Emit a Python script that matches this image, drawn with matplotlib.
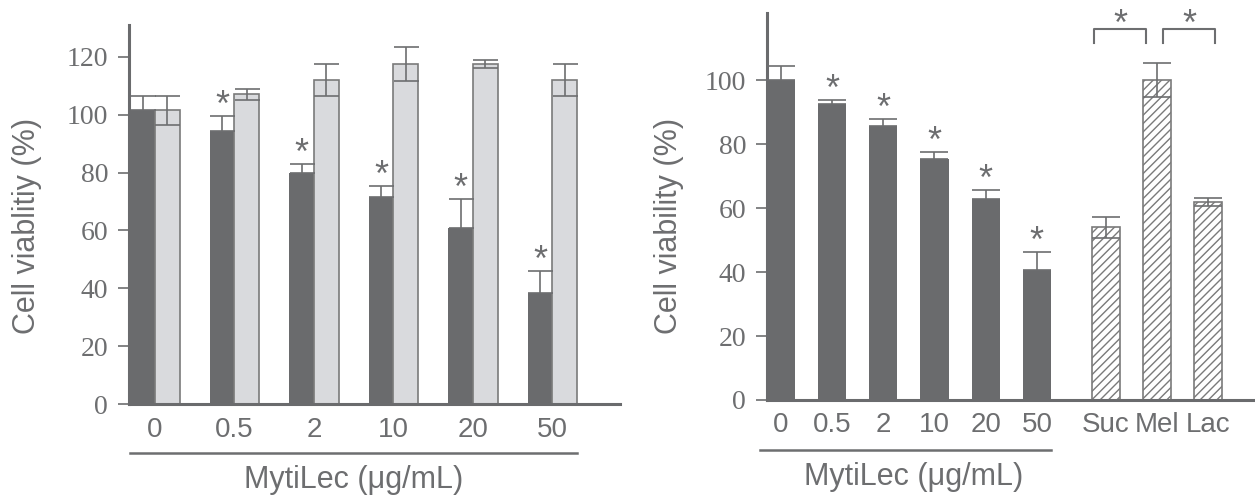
import numpy as np
import matplotlib.pyplot as plt
from matplotlib.transforms import blended_transform_factory

plt.rcParams['font.family'] = ['Liberation Sans', 'DejaVu Sans']
plt.rcParams['hatch.linewidth'] = 1.0

# Левая панель: MytiLec и контроль
doses = ['0', '0.5', '2', '10', '20', '50']
mytilec_mean = [101.5, 94.5, 80, 71.5, 61, 38.5]
mytilec_err = [5, 5, 3, 4, 10, 7.5]
control_mean = [101.5, 107, 112, 117.5, 117.5, 112]
control_err = [5, 2, 5.5, 6, 1.5, 5.5]

# Правая панель: MytiLec и сахара
doses_r = ['0', '0.5', '2', '10', '20', '50']
viab_mean = [100, 92.5, 85.7, 75.3, 62.8, 40.8]
viab_err = [4.5, 1.3, 2.3, 2.2, 2.8, 5.5]
sugars = ['Suc', 'Mel', 'Lac']
sugar_mean = [54, 100, 62]
sugar_err = [3.3, 5.3, 1.2]

dark = '#6a6b6d'
light = '#d9dadd'
gray = '#6d6e70'
edge = '#7a7a7a'

fig = plt.figure(figsize=(12.55, 4.97), dpi=100)
ax1 = fig.add_axes([0.1028, 0.1871, 0.3912, 0.7626])
ax2 = fig.add_axes([0.6112, 0.1952, 0.3888, 0.7786])


def style_axis(ax, ymax, yticks, xticks, xlabels):
    for s in ['top', 'right']:
        ax.spines[s].set_visible(False)
    for s in ['left', 'bottom']:
        ax.spines[s].set_linewidth(2.2)
        ax.spines[s].set_color(dark)
    ax.set_ylim(0, ymax)
    ax.set_yticks(yticks)
    ax.set_yticklabels([str(t) for t in yticks], fontfamily='Liberation Serif', fontsize=20)
    ax.set_xticks(xticks)
    ax.set_xticklabels(xlabels, fontfamily='Liberation Sans', fontsize=20)
    ax.tick_params(axis='y', length=8, width=1.2, color=gray, pad=7, labelcolor=gray)
    ax.tick_params(axis='x', length=0, pad=9, labelcolor=gray)


# ---- левый график ----
x = np.arange(len(doses))
w = 0.31
ax1.bar(x - w / 2, mytilec_mean, w, color=dark, zorder=2)
ax1.bar(x + w / 2, control_mean, w, color=light, edgecolor=edge, linewidth=1.2, zorder=2)
ax1.errorbar(x - w / 2, mytilec_mean, yerr=[np.zeros(len(x)), mytilec_err], fmt='none',
             ecolor=gray, elinewidth=1.2, capsize=9, capthick=1.2, zorder=3)
ax1.errorbar(x + w / 2, control_mean, yerr=control_err, fmt='none',
             ecolor=gray, elinewidth=1.2, capsize=9, capthick=1.2, zorder=3)
for i in range(1, len(x)):
    ax1.text(x[i] - w / 2, mytilec_mean[i] + mytilec_err[i], '*', ha='center', va='baseline',
             fontsize=26, color=gray)
ax1.set_xlim(-0.327, 5.85)
style_axis(ax1, 131, [0, 20, 40, 60, 80, 100, 120], x, doses)
ax1.set_ylabel('Cell viablitiy (%)', fontsize=22, color=gray, va='center')
ax1.yaxis.set_label_coords(-0.208, 0.47)

tr1 = blended_transform_factory(ax1.transData, ax1.transAxes)
ax1.plot([x[0] - w, x[-1] + w], [-0.129, -0.129], transform=tr1, color=gray,
         linewidth=1.8, clip_on=False)
ax1.text((x[0] + x[-1]) / 2, -0.2, 'MytiLec (μg/mL)', transform=tr1, ha='center',
         va='center', fontsize=22, color=gray)

# ---- правый график ----
xr = np.arange(len(doses_r))
xs = np.arange(len(sugars)) + 6.35
wr = 0.55
ax2.bar(xr, viab_mean, wr, color=dark, zorder=2)
ax2.bar(xs, sugar_mean, wr, color='white', edgecolor=edge, hatch='////', linewidth=1.2, zorder=2)
ax2.errorbar(xr, viab_mean, yerr=[np.zeros(len(xr)), viab_err], fmt='none',
             ecolor=gray, elinewidth=1.2, capsize=10, capthick=1.2, zorder=3)
ax2.errorbar(xs, sugar_mean, yerr=sugar_err, fmt='none',
             ecolor=gray, elinewidth=1.2, capsize=10, capthick=1.2, zorder=3)
for i in range(1, len(xr)):
    ax2.text(xr[i], viab_mean[i] + viab_err[i], '*', ha='center', va='baseline',
             fontsize=26, color=gray)

# скобки значимости
for a, b, d0, d1 in [(0, 1, -0.23, -0.22), (1, 2, 0.12, 0.13)]:
    xa, xb = xs[a] + d0, xs[b] + d1
    ax2.plot([xa, xa, xb, xb], [111.5, 116, 116, 111.5], color=gray, linewidth=1.5,
             clip_on=False)
    ax2.text((xa + xb) / 2, 114, '*', ha='center', va='baseline', fontsize=26, color=gray)

ax2.set_xlim(-0.27, 9.26)
style_axis(ax2, 121, [0, 20, 40, 60, 80, 100], list(xr) + list(xs), doses_r + sugars)
ax2.set_ylabel('Cell viability (%)', fontsize=22, color=gray, va='center')
ax2.yaxis.set_label_coords(-0.2, 0.45)

tr2 = blended_transform_factory(ax2.transData, ax2.transAxes)
ax2.plot([-0.4, xr[-1] + wr / 2], [-0.128, -0.128], transform=tr2, color=gray,
         linewidth=1.8, clip_on=False)
ax2.text((xr[0] + xr[-1]) / 2 + 0.1, -0.2, 'MytiLec (μg/mL)', transform=tr2, ha='center',
         va='center', fontsize=22, color=gray)

plt.savefig('out.png', dpi=100)
